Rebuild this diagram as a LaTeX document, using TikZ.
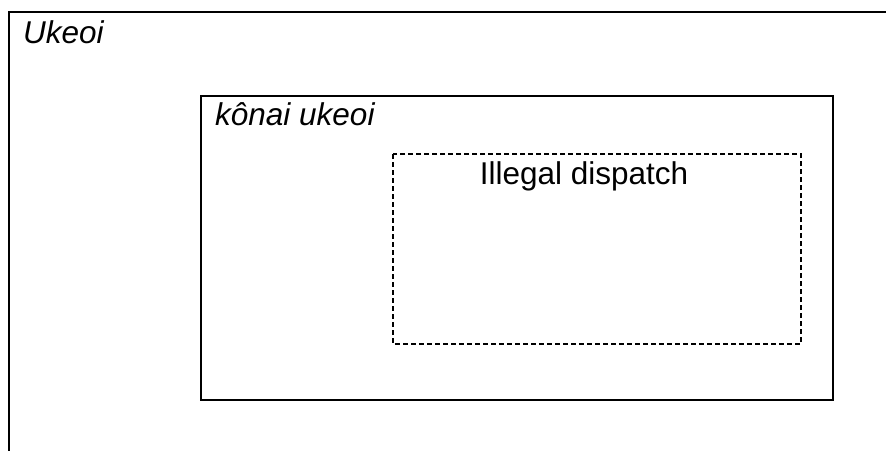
\documentclass[tikz,border=0pt]{standalone}
\usepackage{fontspec}
\setmainfont{Liberation Sans}
\begin{document}
\begin{tikzpicture}[x=1pt,y=-1pt,
  boxline/.style={draw=black,line width=2.4pt},
  dashline/.style={draw=black,line width=2pt,dash pattern=on 5pt off 3pt},
  lbl/.style={font=\fontsize{31.5}{38}\selectfont\itshape,anchor=base west,inner sep=0pt},
  ttl/.style={font=\fontsize{31.5}{38}\selectfont,anchor=base,inner sep=0pt}]
\useasboundingbox[fill=white] (0,0) rectangle (886,450);
% outer box (partially visible)
\coordinate (otr) at (890,12);
\coordinate (otl) at (9,12);
\coordinate (obl) at (9,455);
\draw[boxline] (otr) -- (otl) -- (obl);
\node[lbl] (ukeoi) at (23,43) {Ukeoi};
% inner box
\draw[boxline] (201,96) rectangle (833,400);
\node[lbl] (konai) at (215,125) {kônai ukeoi};
% dashed box
\draw[dashline] (393,154) rectangle (801,344);
\node[ttl] (illegal) at (584,184) {Illegal dispatch};
\end{tikzpicture}
\end{document}
